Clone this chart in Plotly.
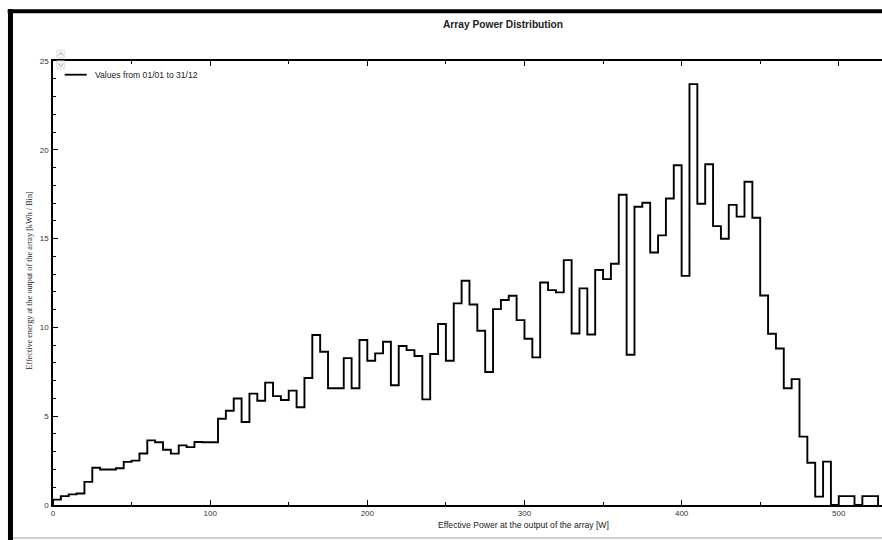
import plotly.graph_objects as go

# ---- data ----
bin_width = 5  # W per bin
energy_per_bin = [
    0.3, 0.5, 0.6, 0.65, 1.3, 2.1, 2.0, 2.0, 2.07, 2.43,
    2.5, 2.9, 3.64, 3.53, 3.11, 2.89, 3.36, 3.26, 3.55, 3.53,
    3.53, 4.86, 5.31, 6.0, 4.67, 6.27, 5.87, 6.89, 6.13, 5.91,
    6.44, 5.5, 7.15, 9.57, 8.63, 6.57, 6.57, 8.27, 6.57, 9.29,
    8.12, 8.54, 9.19, 6.74, 8.95, 8.72, 8.39, 5.95, 8.5, 10.19,
    8.12, 11.35, 12.63, 11.29, 9.81, 7.49, 11.03, 11.54, 11.78, 10.41,
    9.36, 8.31, 12.53, 12.1, 11.97, 13.79, 9.66, 12.2, 9.6, 13.23,
    12.72, 13.58, 17.47, 8.46, 16.79, 17.02, 14.22, 15.18, 17.26, 19.13,
    12.9, 23.7, 16.96, 19.19, 15.7, 14.99, 16.9, 16.24, 18.2, 16.17,
    11.8, 9.64, 8.81, 6.57, 7.09, 3.85, 2.38, 0.47, 2.44, 0.0,
    0.5, 0.5, 0.0, 0.5, 0.5,
]
bin_starts = [i * bin_width for i in range(len(energy_per_bin))]
x_tick_values = [0, 100, 200, 300, 400, 500]
y_tick_values = [0, 5, 10, 15, 20, 25]

# step outline of the histogram
xs = [bin_starts[0]] + bin_starts + [bin_starts[-1] + bin_width]
ys = [0] + energy_per_bin + [0]

W, H = 882, 540
L, R, T, B = 53.3, 0, 61, 35
PW, PH = W - L - R, H - T - B


def px(x):
    return (x - L) / PW


def py(y):
    return (H - B - y) / PH


fig = go.Figure()
fig.add_trace(go.Scatter(
    x=xs, y=ys, mode="lines", line=dict(color="black", width=1.9, shape="hv"),
    showlegend=False, hoverinfo="skip",
))

font_sans = "Liberation Sans, Arial, sans-serif"
font_serif = "Liberation Serif, Times New Roman, serif"

fig.update_layout(
    width=W, height=H,
    margin=dict(l=L, r=R, t=T, b=B, pad=0),
    paper_bgcolor="white", plot_bgcolor="white",
    showlegend=False,
    xaxis=dict(
        range=[0, 527.5], showline=True, linecolor="black", linewidth=1.6,
        mirror="ticks", ticks="inside", ticklen=5, tickwidth=1, tickcolor="black",
        tickvals=x_tick_values, showgrid=False, zeroline=False,
        minor=dict(tickvals=[50, 150, 250, 350, 450], ticks="inside", ticklen=3,
                   tickcolor="black", showgrid=False),
        tickfont=dict(family=font_sans, size=8, color="#333"),
    ),
    yaxis=dict(
        range=[0, 25], showline=True, linecolor="black", linewidth=1.6,
        mirror=False, ticks="inside", ticklen=5, tickwidth=1, tickcolor="black",
        tickvals=y_tick_values, showgrid=False, zeroline=False,
        minor=dict(dtick=1, ticks="inside", ticklen=3, tickcolor="black", showgrid=False),
        tickfont=dict(family=font_sans, size=8, color="#333"),
        ticklabelstandoff=1,
    ),
)

annotations = [
    dict(text="<b>Array Power Distribution</b>", x=px(503), y=py(24.5),
         font=dict(family=font_sans, size=10.2, color="#222")),
    dict(text="Effective Power at the output of the array [W]", x=px(524), y=py(525),
         font=dict(family=font_sans, size=8.6, color="#222")),
    dict(text="Effective energy at the output of the array [kWh / Bin]", x=px(29), y=py(280),
         textangle=-90, font=dict(family=font_serif, size=8.2, color="#222")),
    dict(text="Values from 01/01 to 31/12", x=px(93), y=py(75), xanchor="left",
         font=dict(family=font_sans, size=8.6, color="#222")),
]
for a in annotations:
    a.setdefault("xanchor", "center")
    a.update(xref="paper", yref="paper", yanchor="middle", showarrow=False)
fig.update_layout(annotations=annotations)


def chevron(cx, cy, up):
    d = -1.5 if up else 1.5
    return (f"M {px(cx - 2.5)} {py(cy - d)} L {px(cx)} {py(cy + d)} "
            f"L {px(cx + 2.5)} {py(cy - d)}")


shapes = [
    # legend sample line
    dict(type="line", x0=px(65), x1=px(87), y0=py(74.7), y1=py(74.7),
         line=dict(color="black", width=1.8)),
    # spinner boxes
    dict(type="rect", x0=px(57), x1=px(65), y0=py(50), y1=py(58),
         fillcolor="#f4f4f4", line=dict(color="#e4e4e4", width=1)),
    dict(type="rect", x0=px(57), x1=px(65), y0=py(61), y1=py(69),
         fillcolor="#f4f4f4", line=dict(color="#e4e4e4", width=1)),
    dict(type="path", path=chevron(61, 54, True), line=dict(color="#aaaaaa", width=1)),
    dict(type="path", path=chevron(61, 65, False), line=dict(color="#aaaaaa", width=1)),
    # window frame
    dict(type="rect", x0=px(8), x1=px(882), y0=py(9.3), y1=py(13.3),
         fillcolor="black", line=dict(width=0)),
    dict(type="rect", x0=px(8.3), x1=px(13.3), y0=py(9.3), y1=py(540),
         fillcolor="black", line=dict(width=0)),
    dict(type="line", x0=px(13.3), x1=px(882), y0=py(538), y1=py(538),
         line=dict(color="#c0c0c0", width=1.5)),
]
for s in shapes:
    s.update(xref="paper", yref="paper", layer="above")
fig.update_layout(shapes=shapes)

fig.write_html(
    "out.html",
    config={"displayModeBar": False},
    post_script="document.body.style.margin='0';document.body.style.padding='0';",
)
